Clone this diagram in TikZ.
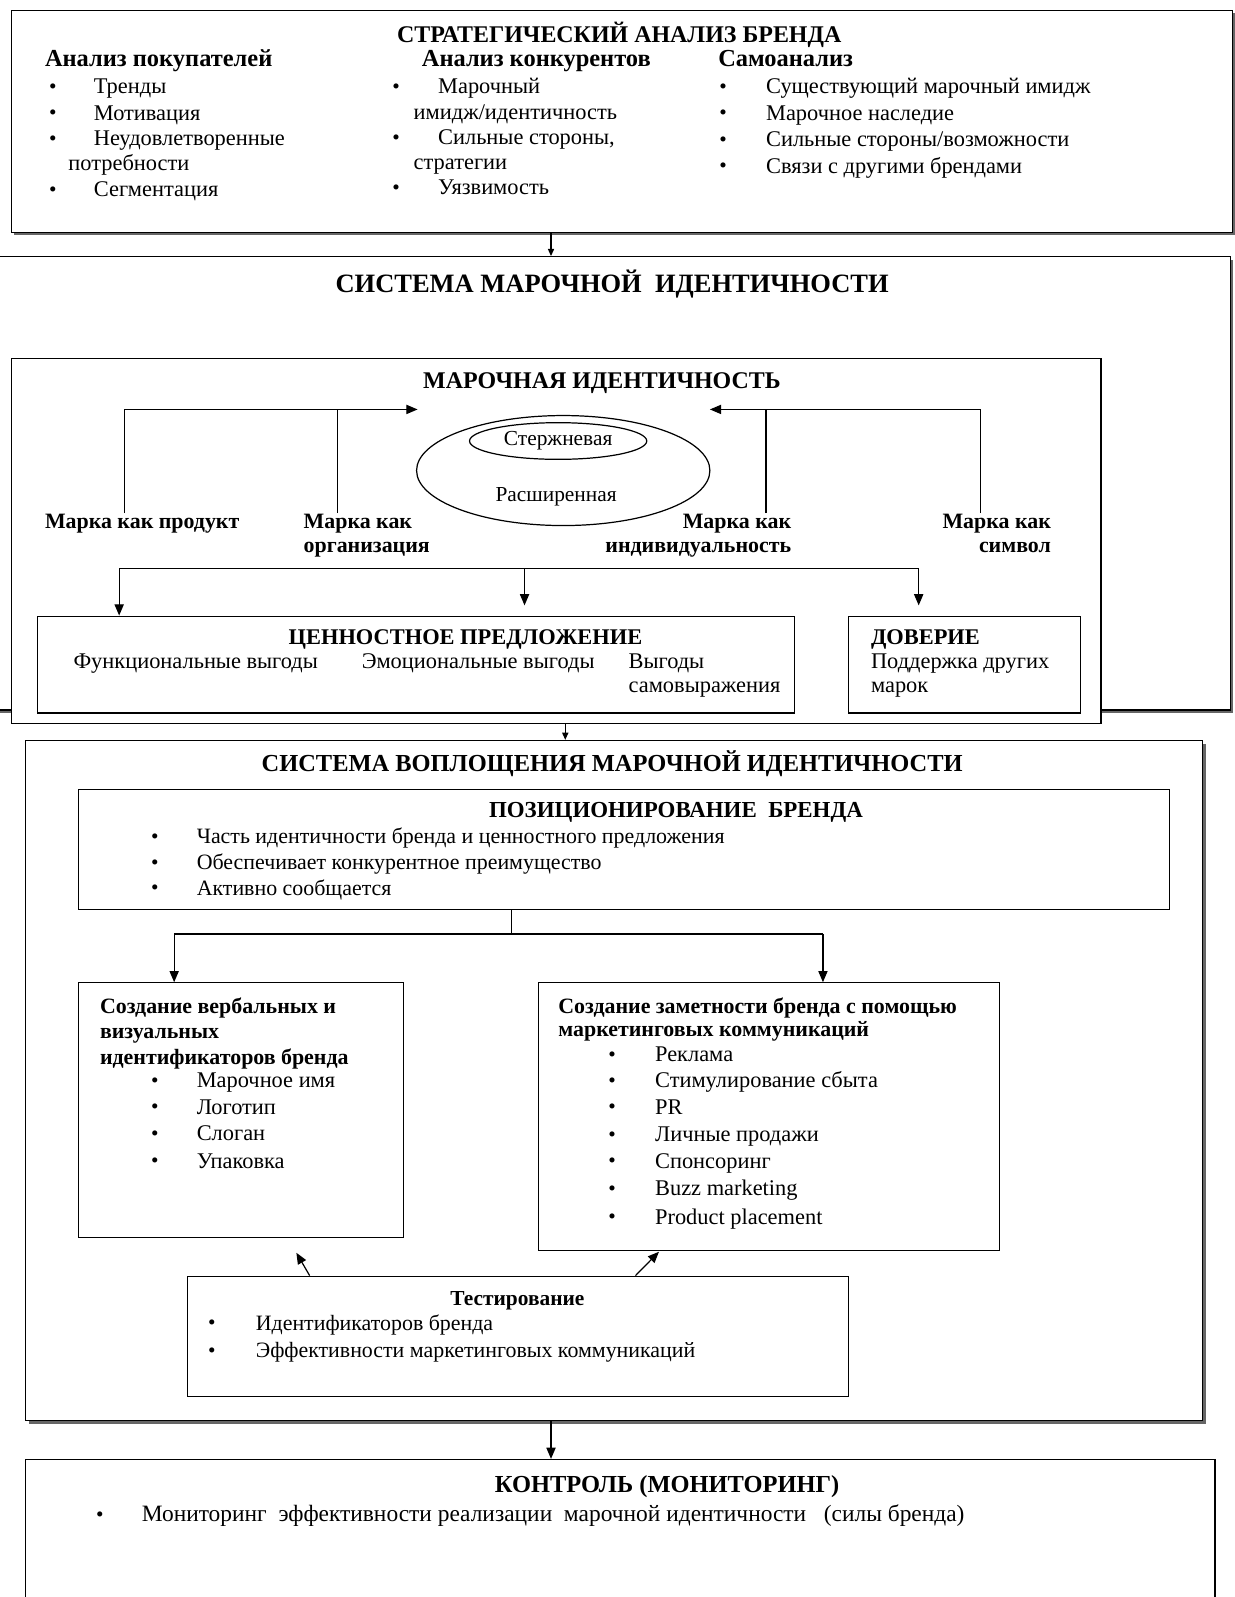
\documentclass[tikz,border=0pt]{standalone}
\usepackage{fontspec}
\setmainfont{Liberation Serif}
\usetikzlibrary{arrows.meta, positioning, fit, shadows, shapes.geometric}
\tikzset{
  box/.style={rectangle, draw=black, fill=white, line width=1.2pt, inner sep=0pt},
  shbox/.style={box, drop shadow={shadow xshift=3pt, shadow yshift=-3pt,
    fill=black!60, opacity=1}},
  txt/.style={anchor=west, inner sep=0pt, font=\fontsize{22}{26}\selectfont,
    text height=15pt, text depth=5pt},
  hdr/.style={txt, font=\bfseries\fontsize{21.5}{26}\selectfont},
  ttl/.style={inner sep=0pt, font=\bfseries\fontsize{23.5}{28}\selectfont},
  bul/.style={inner sep=0pt, font=\fontsize{21}{25}\selectfont},
  oval/.style={ellipse, draw=black, line width=1.2pt, inner sep=0pt},
  arr/.style={-{Triangle[length=11pt,width=9pt]}, line width=1.2pt},
  sarr/.style={-{Triangle[length=7pt,width=6pt]}, line width=1.2pt},
  line/.style={line width=1.2pt}
}
\begin{document}
\begin{tikzpicture}[x=1pt, y=-1pt]
  \useasboundingbox (0,0) rectangle (1212,1568);

  % Strategic analysis
  \node[shbox, fit={(11,10) (1210,228)}] (strat) {};
  \node[ttl] (stratT) at (608,34) {СТРАТЕГИЧЕСКИЙ АНАЛИЗ БРЕНДА};
  \node[hdr, font=\bfseries\fontsize{24}{28}\selectfont] (buyH) at (44,60) {Анализ покупателей};
  \foreach \y/\t [count=\i] in {87/Тренды, 113/Мотивация, 138/Неудовлетворенные, 188/Сегментация}
    {\node[bul] (buyB\i) at (52,\y) {\textbullet};
     \node[txt] (buy\i) at (92,\y) {\t};}
  \node[txt] (buy5) at (67,162) {потребности};
  \node[hdr, font=\bfseries\fontsize{24}{28}\selectfont] (compH) at (414,60) {Анализ конкурентов};
  \foreach \y/\t [count=\i] in {87/Марочный, 137/{Сильные стороны,}, 186/Уязвимость}
    {\node[bul] (compB\i) at (389,\y) {\textbullet};
     \node[txt] (comp\i) at (430,\y) {\t};}
  \node[txt] (comp4) at (406,112) {имидж/идентичность};
  \node[txt] (comp5) at (406,161) {стратегии};
  \node[hdr, font=\bfseries\fontsize{24}{28}\selectfont] (selfH) at (705,60) {Самоанализ};
  \foreach \y/\t [count=\i] in {87/{Существующий марочный имидж}, 113/{Марочное наследие},
      139/{Сильные стороны/возможности}, 165/{Связи с другими брендами}}
    {\node[bul] (selfB\i) at (710,\y) {\textbullet};
     \node[txt] (self\i) at (752,\y) {\t};}

  % Brand identity system
  \node[shbox, fit={(-5,252) (1208,697)}] (sysid) {};
  \node[ttl, font=\bfseries\fontsize{26}{30}\selectfont] (sysidT) at (601,279)
    {СИСТЕМА МАРОЧНОЙ \ ИДЕНТИЧНОСТИ};
  \coordinate (j1) at (541,0);
  \draw[sarr] (strat.south -| j1) -- (sysid.north -| j1);

  \node[box, fit={(11,352) (1081,710)}] (ident) {};
  \node[ttl] (identT) at (591,376) {МАРОЧНАЯ ИДЕНТИЧНОСТЬ};
  \node[oval, minimum width=288pt, minimum height=108pt] (ext) at (553,462) {};
  \node[oval, minimum width=174pt, minimum height=36pt, font=\fontsize{21}{25}\selectfont]
    (core) at (548,433) {Стержневая};
  \node[bul] (extT) at (546,488) {Расширенная};

  \node[hdr] (mprod) at (44,514) {Марка как продукт};
  \node[hdr] (morg) at (298,514) {Марка как};
  \node[hdr] (morg2) at (298,537) {организация};
  \node[hdr, anchor=east] (mind) at (777,514) {Марка как};
  \node[hdr, anchor=east] (mind2) at (777,537) {индивидуальность};
  \node[hdr, anchor=east] (msym) at (1032,514) {Марка как};
  \node[hdr, anchor=east] (msym2) at (1032,537) {символ};

  \coordinate (inL) at (410,402);
  \coordinate (inR) at (697,402);
  \coordinate (vP) at (122,0);
  \coordinate (vO) at (331,0);
  \coordinate (vI) at (752,0);
  \coordinate (vS) at (963,0);
  \draw[arr] (mprod.north -| vP) |- (inL);
  \draw[line] (morg.north -| vO) -- (vO |- inL);
  \draw[arr] (msym.north -| vS) |- (inR);
  \draw[line] (mind.north -| vI) -- (vI |- inR);

  \node[box, fit={(37,605) (780,700)}] (value) {};
  \node[ttl, font=\bfseries\fontsize{22}{26}\selectfont] (valueT) at (457,628) {ЦЕННОСТНОЕ ПРЕДЛОЖЕНИЕ};
  \node[txt] (val1) at (72,651) {Функциональные выгоды};
  \node[txt] (val2) at (355,651) {Эмоциональные выгоды};
  \node[txt] (val3) at (617,651) {Выгоды};
  \node[txt] (val4) at (617,675) {самовыражения};
  \node[box, fit={(833,605) (1061,700)}] (trust) {};
  \node[ttl, anchor=west, font=\bfseries\fontsize{22}{26}\selectfont] (trustT) at (855,628) {ДОВЕРИЕ};
  \node[txt] (trust1) at (855,651) {Поддержка других};
  \node[txt] (trust2) at (855,675) {марок};

  \coordinate (dL) at (117,558);
  \coordinate (dM) at (515,558);
  \coordinate (dR) at (902,558);
  \draw[line] (dL) -- (dR);
  \draw[arr] (dL) -- (dL |- value.north);
  \draw[arr, shorten >=10pt] (dM) -- (dM |- value.north);
  \draw[arr, shorten >=10pt] (dR) -- (dR |- trust.north);

  % Implementation system
  \node[shbox, fit={(25,727) (1181,1395)}] (impl) {};
  \node[ttl, font=\bfseries\fontsize{24}{28}\selectfont] (implT) at (601,750)
    {СИСТЕМА ВОПЛОЩЕНИЯ МАРОЧНОЙ ИДЕНТИЧНОСТИ};
  \coordinate (j2) at (555,0);
  \draw[sarr] (ident.south -| j2) -- (impl.north -| j2);

  \node[box, fit={(77,775) (1148,893)}] (pos) {};
  \node[ttl, anchor=west, font=\bfseries\fontsize{22.5}{27}\selectfont] (posT) at (480,798)
    {ПОЗИЦИОНИРОВАНИЕ \ БРЕНДА};
  \foreach \y/\t [count=\i] in {823/{Часть идентичности бренда и ценностного предложения},
      849/{Обеспечивает конкурентное преимущество}, 874/{Активно сообщается}}
    {\node[bul] (posB\i) at (152,\y) {\textbullet};
     \node[txt, font=\fontsize{21.5}{26}\selectfont] (pos\i) at (193,\y) {\t};}

  \coordinate (pj) at (502,917);
  \coordinate (pl) at (171,917);
  \coordinate (pr) at (808,917);
  \draw[line] (pos.south -| pj) -- (pj);
  \draw[line] (pl) -- (pr);

  \node[box, fit={(77,965) (396,1215)}] (verb) {};
  \node[hdr] (verbH1) at (98,990) {Создание вербальных и};
  \node[hdr] (verbH2) at (98,1015) {визуальных};
  \node[hdr] (verbH3) at (98,1040) {идентификаторов бренда};
  \foreach \y/\t [count=\i] in {1063/{Марочное имя}, 1089/Логотип, 1115/Слоган, 1142/Упаковка}
    {\node[bul] (verbB\i) at (152,\y) {\textbullet};
     \node[txt] (verb\i) at (193,\y) {\t};}

  \node[box, fit={(529,965) (981,1228)}] (vis) {};
  \node[hdr] (visH1) at (548,990) {Создание заметности бренда с помощью};
  \node[hdr] (visH2) at (548,1013) {маркетинговых коммуникаций};
  \foreach \y/\t [count=\i] in {1037/Реклама, 1063/{Стимулирование сбыта}, 1089/PR,
      1116/{Личные продажи}, 1142/Спонсоринг, 1169/{Buzz marketing}, 1197/{Product placement}}
    {\node[bul] (visB\i) at (601,\y) {\textbullet};
     \node[txt] (vis\i) at (643,\y) {\t};}

  \draw[arr] (pl) -- (pl |- verb.north);
  \draw[arr] (pr) -- (pr |- vis.north);

  \node[box, fit={(184,1253) (833,1371)}] (test) {};
  \node[ttl, font=\bfseries\fontsize{21}{25}\selectfont] (testT) at (508,1277) {Тестирование};
  \foreach \y/\t [count=\i] in {1301/{Идентификаторов бренда},
      1328/{Эффективности маркетинговых коммуникаций}}
    {\node[bul] (testB\i) at (208,\y) {\textbullet};
     \node[txt, font=\fontsize{21.5}{26}\selectfont] (test\i) at (251,\y) {\t};}

  \coordinate (t1) at (304,0);
  \coordinate (t2) at (624,0);
  \coordinate (tipA) at (291,1230);
  \coordinate (tipB) at (647,1229);
  \draw[arr] (test.north -| t1) -- (tipA);
  \draw[arr] (test.north -| t2) -- (tipB);

  % Control
  \node[box, fit={(25,1433) (1193,1590)}] (ctrl) {};
  \coordinate (j3) at (541,0);
  \draw[arr] (impl.south -| j3) -- (ctrl.north -| j3);
  \node[ttl, font=\bfseries\fontsize{24}{28}\selectfont] (ctrlT) at (655,1460) {КОНТРОЛЬ (МОНИТОРИНГ)};
  \node[bul] (ctrlB) at (98,1489) {\textbullet};
  \node[txt, font=\fontsize{23}{27}\selectfont] (ctrl1) at (139,1489)
    {Мониторинг \ эффективности реализации \ марочной идентичности \ \ (силы бренда)};
\end{tikzpicture}
\end{document}
